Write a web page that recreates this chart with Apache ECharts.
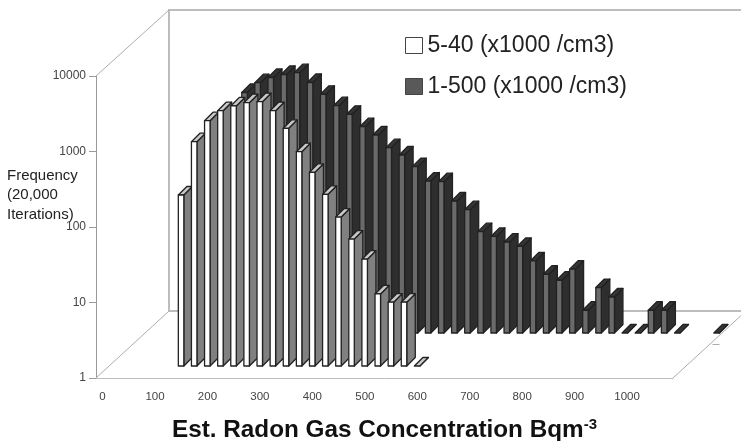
<!DOCTYPE html>
<html>
<head>
<meta charset="utf-8">
<style>html,body{margin:0;padding:0;background:#fff}#c{width:741px;height:441px}</style>
<script src="https://cdn.jsdelivr.net/npm/echarts@6/dist/echarts.min.js"></script>
</head>
<body>
<div id="c"></div>
<script>
var categories = [0,25,50,75,100,125,150,175,200,225,250,275,300,325,350,375,400,425,450,475,500,525,550,575,600,625,650,675,700,725,750,775,800,825,850,875,900,925,950,975,1000,1025,1050,1075];
var yTicks = ['1','10','100','1000','10000'];
var seriesNames = ['5-40 (x1000 /cm3)', '1-500 (x1000 /cm3)'];
var values540 = [null,null,null,null,null,184,935,1775,2406,2780,3072,3170,2406,1407,689,368,188,94,48,26,9,7,7,1,null,null,null,null,null,null,null,null,null,null,null,null,null,null,null,null,null,null,null,null];
var values1500 = [null,null,null,null,null,100,500,1532,2067,2422,2654,2805,2080,1451,1025,788,540,419,285,228,160,103,101,56,43,22,19,16,14,9,6,5,7,2,4,3,1,1,2,2,1,null,null,1];

var FONT = '"Liberation Sans", Arial, sans-serif';
var frontWidth = 5.5, sideShift = 8.5;

function barRenderer(dx, dy, front, top, side) {
  return function (params, api) {
    var v = api.value(1);
    if (!(v > 0)) return null;
    var p = api.coord([api.value(0), v]);
    var b = api.coord([api.value(0), 1]);
    var x0 = p[0] + dx - 3, x1 = x0 + frontWidth;
    var yt = p[1] - dy, yb = b[1] - dy;
    var line = { stroke: '#222', lineWidth: 1.3, lineJoin: 'round' };
    var kids = [];
    kids.push({ type: 'polygon', shape: { points: [[x1, yt], [x1 + sideShift, yt - sideShift], [x1 + sideShift, yb - sideShift], [x1, yb]] }, style: Object.assign({ fill: side }, line) });
    kids.push({ type: 'polygon', shape: { points: [[x0, yt], [x0 + sideShift, yt - sideShift], [x1 + sideShift, yt - sideShift], [x1, yt]] }, style: Object.assign({ fill: top }, line) });
    if (yb - yt > 0.5) kids.push({ type: 'rect', shape: { x: x0, y: yt, width: frontWidth, height: yb - yt }, style: Object.assign({ fill: front }, line) });
    return { type: 'group', children: kids };
  };
}

function frameRenderer(params, api) {
  var depthX = 73, depthY = 67;
  var a = api.coord([0, 1]), c0 = api.coord([1, 1]), t = api.coord([0, 10000]);
  var band = c0[0] - a[0];
  var L = a[0] - band / 2, R = L + band * categories.length, B = a[1], T = t[1];
  var heavy = { stroke: '#bdbdbd', lineWidth: 2, fill: null };
  var thin = { stroke: '#adadad', lineWidth: 1, fill: null };
  function pl(pts, st) { return { type: 'polyline', shape: { points: pts }, style: st }; }
  return { type: 'group', children: [
    pl([[L + depthX, B - depthY], [L + depthX, T - depthY + 1], [741, T - depthY + 1]], heavy),
    pl([[L + depthX, B - depthY], [741, B - depthY]], heavy),
    pl([[L, T], [L + depthX, T - depthY + 1]], thin),
    pl([[L, B], [L + depthX, B - depthY]], thin),
    pl([[R, B], [R + depthX, B - depthY]], thin),
    pl([[R + depthX / 2 + 3, B - depthY / 2], [R + depthX / 2 + 10, B - depthY / 2]], thin)
  ] };
}

var chart = echarts.init(document.getElementById('c'), null, { renderer: 'canvas' });
chart.setOption({
  animation: false,
  backgroundColor: '#fff',
  textStyle: { fontFamily: FONT },
  legend: {
    orient: 'vertical', left: 400, top: 29, itemWidth: 17, itemHeight: 16, itemGap: 18,
    icon: 'rect', selectedMode: false,
    textStyle: { fontFamily: FONT, fontSize: 23, color: '#222' },
    data: [
      { name: seriesNames[0], itemStyle: { color: '#fff', borderColor: '#444', borderWidth: 1 } },
      { name: seriesNames[1], itemStyle: { color: '#595959', borderColor: '#444', borderWidth: 1 } }
    ]
  },
  grid: { left: 96, right: 68, top: 76, bottom: 63, containLabel: false, outerBoundsMode: 'none' },
  xAxis: {
    type: 'category', data: categories.map(String), boundaryGap: true,
    axisLine: { lineStyle: { color: '#bdbdbd', width: 1 } },
    axisTick: { interval: 3, length: 7, lineStyle: { color: '#9a9a9a' } },
    axisLabel: { interval: 3, fontSize: 11.5, color: '#444', fontFamily: FONT, margin: 13 },
    splitLine: { show: false },
    name: '{t|Est. Radon Gas Concentration Bqm}{s|-3}',
    nameLocation: 'middle', nameGap: 39,
    nameTextStyle: { rich: {
      t: { fontFamily: FONT, fontSize: 24.3, fontWeight: 'bold', color: '#111' },
      s: { fontFamily: FONT, fontSize: 15, fontWeight: 'bold', color: '#111', padding: [0, 0, 11, 0] }
    } }
  },
  yAxis: {
    type: 'log', logBase: 10, min: 1, max: 10000,
    axisLine: { show: true, onZero: false, lineStyle: { color: '#9a9a9a', width: 1 } },
    axisTick: { show: true, length: 7, lineStyle: { color: '#9a9a9a' } },
    axisLabel: { fontSize: 12, color: '#444', fontFamily: FONT, margin: 10, formatter: function (v) { return yTicks[Math.round(Math.log10(v))] || String(v); } },
    minorTick: { show: false },
    splitLine: { show: false }
  },
  graphic: [{
    type: 'text', left: 7, top: 166,
    style: { text: 'Frequency\n(20,000\nIterations)', fontFamily: FONT, fontSize: 15, lineHeight: 19.5, fill: '#222' }
  }],
  series: [
    { type: 'custom', name: 'frame', silent: true, z: 1, renderItem: frameRenderer, data: [[0, 1]], encode: { x: 0, y: 1 }, tooltip: { show: false } },
    { type: 'custom', name: seriesNames[1], z: 2, clip: false, encode: { x: 0, y: 1 },
      itemStyle: { color: '#595959' },
      renderItem: barRenderer(50.4, 45, '#6a6a6a', '#353535', '#2e2e2e'),
      data: categories.map(function (c, i) { return [i, values1500[i]]; }) },
    { type: 'custom', name: seriesNames[0], z: 3, clip: false, encode: { x: 0, y: 1 },
      itemStyle: { color: '#fff' },
      renderItem: barRenderer(13.2, 12, '#ffffff', '#c9c9c9', '#808080'),
      data: categories.map(function (c, i) { return [i, values540[i]]; }) }
  ]
});
</script>
</body>
</html>
